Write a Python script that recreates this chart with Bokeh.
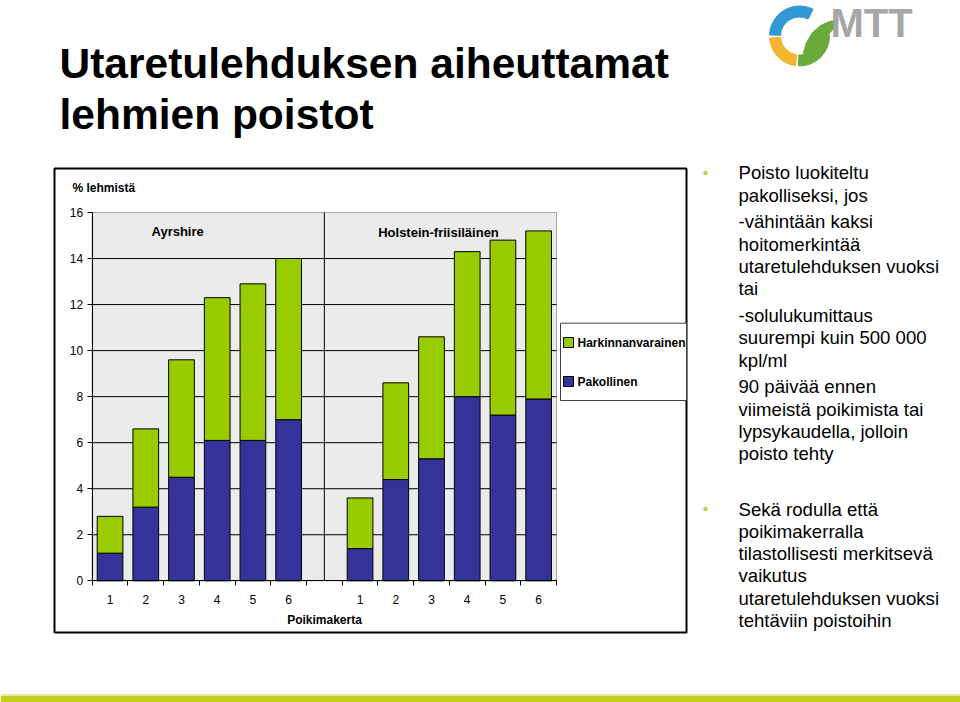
import math
from bokeh.plotting import figure
from bokeh.models import Range1d, LinearAxis, FixedTicker, ColumnDataSource
from bokeh.core.properties import value
from bokeh.embed import file_html
from bokeh.resources import INLINE

# ---------------- data ----------------
poikimakerta = ["1", "2", "3", "4", "5", "6"]
rodut = ["Ayrshire", "Holstein-friisiläinen"]
ayrshire_pakollinen = [1.2, 3.2, 4.5, 6.1, 6.1, 7.0]
ayrshire_harkinnanvarainen = [1.6, 3.4, 5.1, 6.2, 6.8, 7.0]
holstein_pakollinen = [1.4, 4.4, 5.3, 8.0, 7.2, 7.9]
holstein_harkinnanvarainen = [2.2, 4.2, 5.3, 6.3, 7.6, 7.3]
y_ticks = [0, 2, 4, 6, 8, 10, 12, 14, 16]
series = ["Pakollinen", "Harkinnanvarainen"]
y_axis_title = "% lehmistä"
x_axis_title = "Poikimakerta"

title_lines = ["Utaretulehduksen aiheuttamat", "lehmien poistot"]
bullet1 = [
    ["Poisto luokiteltu", "pakolliseksi, jos"],
    ["-vähintään kaksi", "hoitomerkintää", "utaretulehduksen vuoksi", "tai"],
    ["-solulukumittaus", "suurempi kuin 500 000", "kpl/ml"],
    ["90 päivää ennen", "viimeistä poikimista tai", "lypsykaudella, jolloin", "poisto tehty"],
]
bullet2 = [
    ["Sekä rodulla että", "poikimakerralla", "tilastollisesti merkitsevä", "vaikutus",
     "utaretulehduksen vuoksi", "tehtäviin poistoihin"],
]

# ---------------- styles / layout ----------------
FONTNAME = "Liberation Sans"
FONT = value(FONTNAME)
GREEN = "#99CC00"
BLUE = "#333399"
W, H = 960, 702
PX0, PX1 = 91.7, 556.0      # plot area left / right (px)
PY0, PY1 = 580.3, 212.0     # pixel of y=0 and y=max
n_per = len(poikimakerta)
n_slots = len(rodut) * n_per + (len(rodut) - 1)
ymax = y_ticks[-1]
slot_w = (PX1 - PX0) / n_slots
unit = (PY0 - PY1) / ymax

p = figure(width=W, height=H, x_range=Range1d(0, W), y_range=Range1d(H, 0),
           x_axis_type=None, y_axis_type=None, toolbar_location=None,
           output_backend="svg", min_border=0, outline_line_color=None,
           background_fill_color="white", border_fill_color="white")
p.extra_x_ranges = {"cx": Range1d(0.5 - PX0 / slot_w, 0.5 + (W - PX0) / slot_w)}
p.extra_y_ranges = {"cy": Range1d(-(H - PY0) / unit, PY0 / unit)}
C = dict(x_range_name="cx", y_range_name="cy")
TXT = dict(text_font=FONT, text_color="black", text_baseline="middle")

# ---------------- page decorations ----------------
# title
p.text(x=[59, 59], y=[63, 114], text=title_lines, text_font_size="42.5px",
       text_font_style="bold", **TXT)

# bullets
def bullet_block(paras, y0, pitch=22.3, gap=4.5):
    ys, ts = [], []
    y = y0
    for para in paras:
        for line in para:
            ys.append(y)
            ts.append(line)
            y += pitch
        y += gap
    return ys, ts

ys1, ts1 = bullet_block(bullet1, 172.2)
ys2, ts2 = bullet_block(bullet2, 508.5)
p.text(x=[738] * (len(ts1) + len(ts2)), y=ys1 + ys2, text=ts1 + ts2,
       text_font_size="18.6px", **TXT)
p.scatter(x=[705, 705], y=[172.5, 508.5], size=4.5, color="#C3CF3C", line_color=None)

# logo
p.annular_wedge(x=799, y=35.5, inner_radius=19, outer_radius=30,
                start_angle=[math.radians(a) for a in (63, 184, 268)],
                end_angle=[math.radians(a) for a in (178, 262, 2)],
                color=["#3399D6", "#F0B630", "#6AAA3B"], direction="anticlock")
p.patch(x=[806, 803, 806, 812, 820, 829, 838, 834, 828, 822, 816, 812],
        y=[64, 52, 42, 32, 25, 21, 19.5, 27, 34, 41, 49, 59], color="#6AAA3B")
p.text(x=[830], y=[22], text=["MTT"], text_font_size="40px", text_font_style="bold",
       text_font=FONT, text_color="#A6A6A6", text_baseline="middle")

# bottom stripe
p.quad(left=0, right=W, top=693.5, bottom=695.5, color="#E4E7A8", line_color=None)
p.quad(left=0, right=W, top=695.5, bottom=H, color="#C6CC1E", line_color=None)

# chart frame
p.quad(left=54, right=686, top=168, bottom=632, fill_color="white", line_color="black", line_width=2)

# ---------------- chart ----------------
xs, pak, hark = [], [], []
overrides = {}
for g, (pk, hk) in enumerate([(ayrshire_pakollinen, ayrshire_harkinnanvarainen),
                              (holstein_pakollinen, holstein_harkinnanvarainen)]):
    off = g * (n_per + 1)
    for i in range(n_per):
        xs.append(off + i + 1)
        pak.append(pk[i])
        hark.append(hk[i])
        overrides[off + i + 1] = poikimakerta[i]
src = ColumnDataSource(dict(x=xs, Pakollinen=pak, Harkinnanvarainen=hark))

p.quad(left=0.5, right=n_slots + 0.5, bottom=0, top=ymax, fill_color="#EBEBEB",
       line_color="#A6A6A6", line_width=1, **C)
grid_vals = y_ticks[1:-1]
p.segment(x0=[0.5] * len(grid_vals), x1=[n_slots + 0.5] * len(grid_vals), y0=grid_vals,
          y1=grid_vals, line_color="black", line_width=1, **C)
sep_x = n_per + 1
p.segment(x0=[sep_x], x1=[sep_x], y0=[0], y1=[ymax], line_color="black", line_width=1, **C)

renderers = p.vbar_stack(series, x="x", width=0.72, source=src, color=[BLUE, GREEN],
                         line_color="black", line_width=1, **C)

yaxis = LinearAxis(fixed_location=0.5, bounds=(0, ymax), ticker=FixedTicker(ticks=y_ticks),
                   major_tick_out=5, major_tick_in=0, minor_tick_out=0, minor_tick_in=0,
                   axis_line_color="black", major_tick_line_color="black",
                   major_label_text_font=FONTNAME, major_label_text_font_size="12px",
                   major_label_text_color="black", major_label_standoff=4, **C)
p.add_layout(yaxis, "left")

xaxis = LinearAxis(fixed_location=0, bounds=(0.5, n_slots + 0.5),
                   ticker=FixedTicker(ticks=xs, minor_ticks=[i + 0.5 for i in range(n_slots + 1)]),
                   major_label_overrides=overrides,
                   major_tick_out=0, major_tick_in=0, minor_tick_out=5, minor_tick_in=0,
                   axis_line_color="black", minor_tick_line_color="black",
                   major_label_text_font=FONTNAME, major_label_text_font_size="12px",
                   major_label_text_color="black", major_label_standoff=9,
                   axis_label=x_axis_title, axis_label_text_font=FONTNAME,
                   axis_label_text_font_size="12px", axis_label_text_font_style="bold",
                   axis_label_text_color="black", axis_label_standoff=6, **C)
p.add_layout(xaxis, "below")

# chart texts
p.text(x=[72], y=[187.5], text=[y_axis_title], text_font_size="12px",
       text_font_style="bold", **TXT)
p.text(x=[151], y=[231], text=[rodut[0]], text_font_size="13px",
       text_font_style="bold", **TXT)
p.text(x=[438], y=[232], text=[rodut[1]], text_font_size="13px",
       text_font_style="bold", text_align="center", **TXT)

# legend (drawn manually beside the plot area)
p.quad(left=560, right=686, top=322.7, bottom=400, fill_color="white", line_color="#404040", line_width=1)
leg_y = [342, 381]
leg_names = [series[1], series[0]]
leg_cols = [GREEN, BLUE]
p.quad(left=[563] * 2, right=[573] * 2, top=[y - 5 for y in leg_y], bottom=[y + 5 for y in leg_y],
       fill_color=leg_cols, line_color="black", line_width=1)
p.text(x=[577] * 2, y=leg_y, text=leg_names, text_font_size="12px",
       text_font_style="bold", **TXT)

open("out.html", "w").write(file_html(p, INLINE))
